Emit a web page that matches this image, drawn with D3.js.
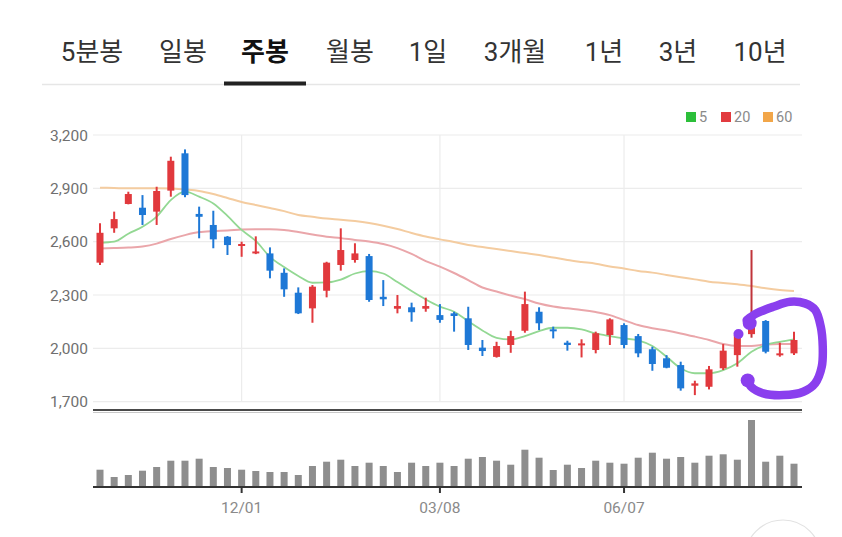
<!DOCTYPE html>
<html><head><meta charset="utf-8">
<script src="https://cdn.jsdelivr.net/npm/d3@7"></script>
<style>
html,body{margin:0;padding:0;background:#fff;}
svg{display:block;font-family:Roboto,"Noto Sans CJK KR",sans-serif;}
</style></head>
<body><svg id="c" width="842" height="537"></svg>
<script>
// ---- data ----
const tabs = ["5분봉","일봉","주봉","월봉","1일","3개월","1년","3년","10년"];
const activeTab = "주봉";
const dates = ["09/22","09/29","10/06","10/13","10/20","10/27","11/03","11/10","11/17","11/24",
  "12/01","12/08","12/15","12/22","12/29","01/05","01/12","01/19","01/26","02/02",
  "02/09","02/16","02/23","03/01","03/08","03/15","03/22","03/29","04/05","04/12",
  "04/19","04/26","05/03","05/10","05/17","05/24","05/31","06/07","06/14","06/21",
  "06/28","07/05","07/12","07/19","07/26","08/02","08/09","08/16","08/23","08/30"];
const xTickLabels = ["12/01","03/08","06/07"];
const yTicks = [1700,2000,2300,2600,2900,3200];
const open  = [2482,2675,2812,2791,2769,2887,3097,2756,2694,2628,2576,2535,2534,2425,2313,2225,2324,2469,2497,2519,
  2290,2223,2231,2223,2187,2197,2169,2004,1952,2019,2099,2206,2107,2032,2017,1991,2075,2131,2069,1995,
  1944,1906,1790,1784,1888,1962,2080,2154,1962,1972];
const high  = [2703,2769,2881,2862,2909,3078,3119,2797,2774,2632,2600,2630,2568,2450,2343,2356,2487,2675,2591,2531,
  2384,2300,2257,2285,2249,2206,2234,2047,2037,2099,2319,2231,2122,2043,2051,2094,2169,2141,2081,2009,
  1962,1925,1818,1901,2024,2085,2553,2159,2032,2094];
const low   = [2469,2650,2810,2694,2694,2853,2850,2619,2563,2525,2515,2530,2394,2290,2193,2144,2287,2437,2482,2262,
  2238,2197,2150,2206,2144,2094,1991,1957,1948,1975,2088,2103,2056,1987,1949,1972,2019,2000,1950,1874,
  1888,1762,1737,1769,1878,1897,2060,1972,1953,1962];
const close = [2650,2727,2868,2750,2885,3055,2862,2740,2613,2581,2587,2545,2437,2332,2197,2347,2482,2553,2534,2272,
  2276,2238,2203,2238,2160,2182,2019,1985,2013,2069,2249,2141,2099,2019,2028,2085,2163,2019,1972,1912,
  1891,1775,1803,1882,1987,2075,2140,1981,1972,2047];
const volume = [173,100,120,163,200,263,263,283,200,190,173,160,150,150,120,210,253,273,210,243,
  210,150,243,210,243,210,283,300,263,223,373,293,170,223,190,263,243,233,293,343,
  283,300,243,313,327,273,670,253,313,233];
const ma5  = [2594,2600,2645,2684,2741,2834,2881,2853,2815,2745,2666,2604,2515,2457,2407,2369,2371,2387,2421,2435,
  2421,2373,2322,2275,2235,2206,2153,2101,2059,2050,2069,2097,2116,2116,2107,2084,2069,2056,2045,2013,
  1953,1888,1860,1860,1878,1916,1981,2019,2037,2051];
const ma20 = [2562,2564,2567,2573,2589,2615,2637,2654,2660,2663,2668,2670,2670,2666,2654,2640,2628,2620,2610,2601,
  2587,2564,2531,2491,2460,2424,2384,2342,2320,2297,2277,2252,2235,2225,2216,2204,2187,2159,2131,2113,
  2100,2084,2066,2047,2024,2013,2013,2022,2024,2024];
const ma60 = [2904,2902,2900,2900,2900,2899,2893,2885,2868,2846,2823,2806,2789,2772,2750,2740,2730,2724,2716,2705,
  2690,2671,2649,2629,2613,2598,2581,2570,2559,2547,2536,2525,2511,2497,2486,2476,2461,2449,2435,2426,
  2413,2400,2388,2375,2368,2360,2351,2338,2328,2322];
const legendNames = ["5","20","60"];
// hand-drawn highlight (index, price)
const markIdx = [45.66,46.37,47.54,48.72,49.78,50.49,50.89,51.03,50.96,50.49,49.66,48.25,46.83,46.01,45.66];
const markVal = [2159,2197,2234,2262,2253,2216,2122,2009,1897,1803,1756,1737,1747,1781,1831];

// ---- layout ----
const svg = d3.select("#c");
const W = 842;
const left = 93, right = 802;
const x = d3.scalePoint().domain(dates).range([100, 794]);
const xi = d3.scaleLinear().domain([0, dates.length - 1]).range([x(dates[0]), x(dates[dates.length - 1])]);
const y = d3.scaleLinear().domain([1700, 3200]).range([401.7, 135]);
const yv = d3.scaleLinear().domain([0, 700]).range([487, 417]);

svg.append("rect").attr("width", W).attr("height", 537).attr("fill", "#fff");

// tabs
const tabX = [92,183,265,350,428,515,604,678,760];
svg.append("line").attr("x1", 42).attr("x2", 800).attr("y1", 84.5).attr("y2", 84.5)
  .attr("stroke", "#e6e6e6").attr("stroke-width", 1.5);
svg.selectAll("text.tab").data(tabs).join("text").attr("class", "tab")
  .attr("x", (d, i) => tabX[i]).attr("y", 61).attr("text-anchor", "middle")
  .attr("font-size", 26).attr("font-family", "Roboto,'Noto Sans CJK KR',sans-serif")
  .attr("font-weight", d => d === activeTab ? 700 : 400)
  .attr("fill", d => d === activeTab ? "#111" : "#333").text(d => d);
const ai = tabs.indexOf(activeTab);
svg.append("rect").attr("x", tabX[ai] - 41).attr("y", 81.5).attr("width", 82).attr("height", 4).attr("fill", "#222");

// gridlines
const g = svg.append("g");
g.selectAll("line.hg").data(yTicks).join("line").attr("class", "hg")
  .attr("x1", left).attr("x2", right).attr("y1", d => y(d)).attr("y2", d => y(d))
  .attr("stroke", "#ececec").attr("stroke-width", 1.2);
g.selectAll("line.vg").data(xTickLabels).join("line").attr("class", "vg")
  .attr("x1", d => x(d)).attr("x2", d => x(d)).attr("y1", y(3200)).attr("y2", y(1700))
  .attr("stroke", "#ececec").attr("stroke-width", 1.2);

// y labels
const fmt = d3.format(",");
g.selectAll("text.yl").data(yTicks).join("text").attr("class", "yl")
  .attr("x", 88).attr("y", d => y(d)).attr("dy", "0.36em").attr("text-anchor", "end")
  .attr("font-size", 15.5).attr("fill", "#6f6f6f").text(d => fmt(d));

// separator
svg.append("line").attr("x1", left).attr("x2", right).attr("y1", 410).attr("y2", 410)
  .attr("stroke", "#4a4a4a").attr("stroke-width", 2.2);
svg.append("line").attr("x1", left).attr("x2", right).attr("y1", 412.5).attr("y2", 412.5)
  .attr("stroke", "#c8c8c8").attr("stroke-width", 1);

// moving averages
const line = arr => d3.line().x((d, i) => x(dates[i])).y(d => y(d)).curve(d3.curveMonotoneX)(arr);
svg.append("path").attr("d", line(ma60)).attr("fill", "none").attr("stroke", "#f4cca0").attr("stroke-width", 2);
svg.append("path").attr("d", line(ma20)).attr("fill", "none").attr("stroke", "#eaa6aa").attr("stroke-width", 2);
svg.append("path").attr("d", line(ma5)).attr("fill", "none").attr("stroke", "#93d893").attr("stroke-width", 1.8);

// candles
const red = "#e1393d", blue = "#1e78d6";
const cd = dates.map((d, i) => ({d, o: open[i], h: high[i], l: low[i], c: close[i]}));
const cg = svg.append("g");
cg.selectAll("line.wick").data(cd).join("line").attr("class", "wick")
  .attr("x1", d => x(d.d)).attr("x2", d => x(d.d)).attr("y1", d => y(d.h)).attr("y2", d => y(d.l))
  .attr("stroke", d => d.c >= d.o ? (d.h - Math.max(d.o, d.c) > 200 ? "#c0343a" : red) : blue)
  .attr("stroke-width", 2);
cg.selectAll("rect.body").data(cd).join("rect").attr("class", "body")
  .attr("x", d => x(d.d) - 3.5).attr("width", 7)
  .attr("y", d => y(Math.max(d.o, d.c)))
  .attr("height", d => Math.max(2, Math.abs(y(d.o) - y(d.c))))
  .attr("fill", d => d.c >= d.o ? red : blue);

// legend
const legColors = ["#2cbf3a", "#e23b3f", "#f2a649"];
const legX = [686, 721, 763];
const lg = svg.append("g");
legendNames.forEach((n, i) => {
  lg.append("rect").attr("x", legX[i]).attr("y", 112).attr("width", 10).attr("height", 10).attr("fill", legColors[i]);
  lg.append("text").attr("x", legX[i] + 13).attr("y", 117).attr("dy", "0.36em")
    .attr("font-size", 14.5).attr("fill", "#8a8a8a").text(n);
});

// volume
svg.selectAll("rect.vol").data(volume).join("rect").attr("class", "vol")
  .attr("x", (d, i) => x(dates[i]) - 3.5).attr("width", 7)
  .attr("y", d => yv(d)).attr("height", d => yv(0) - yv(d)).attr("fill", "#8e8e8e");
svg.append("line").attr("x1", left).attr("x2", right).attr("y1", 487).attr("y2", 487)
  .attr("stroke", "#333").attr("stroke-width", 2);
svg.selectAll("line.xt").data(xTickLabels).join("line").attr("class", "xt")
  .attr("x1", d => x(d)).attr("x2", d => x(d)).attr("y1", 487).attr("y2", 493)
  .attr("stroke", "#333").attr("stroke-width", 2);
svg.selectAll("text.xl").data(xTickLabels).join("text").attr("class", "xl")
  .attr("x", d => x(d)).attr("y", 507).attr("dy", "0.36em").attr("text-anchor", "middle")
  .attr("font-size", 15.5).attr("fill", "#8a8a8a").text(d => d);

// hand-drawn highlight
const mk = markIdx.map((v, i) => [xi(v), y(markVal[i])]);
svg.append("path").attr("d", d3.line().curve(d3.curveCatmullRom)(mk))
  .attr("fill", "none").attr("stroke", "#8a3fee").attr("stroke-width", 8.5)
  .attr("stroke-linecap", "round").attr("stroke-linejoin", "round");
svg.append("circle").attr("cx", mk[0][0] + 3).attr("cy", mk[0][1] + 3).attr("r", 7).attr("fill", "#8a3fee");
svg.append("circle").attr("cx", xi(45.08)).attr("cy", y(2081)).attr("r", 5).attr("fill", "#8a3fee");
svg.append("circle").attr("cx", mk[mk.length - 1][0] + 1).attr("cy", mk[mk.length - 1][1] + 2).attr("r", 7).attr("fill", "#8a3fee");

// floating button outline (bottom right)
svg.append("circle").attr("cx", 783).attr("cy", 558).attr("r", 38)
  .attr("fill", "#fff").attr("stroke", "#e2e2e2").attr("stroke-width", 1.2);
</script></body></html>
